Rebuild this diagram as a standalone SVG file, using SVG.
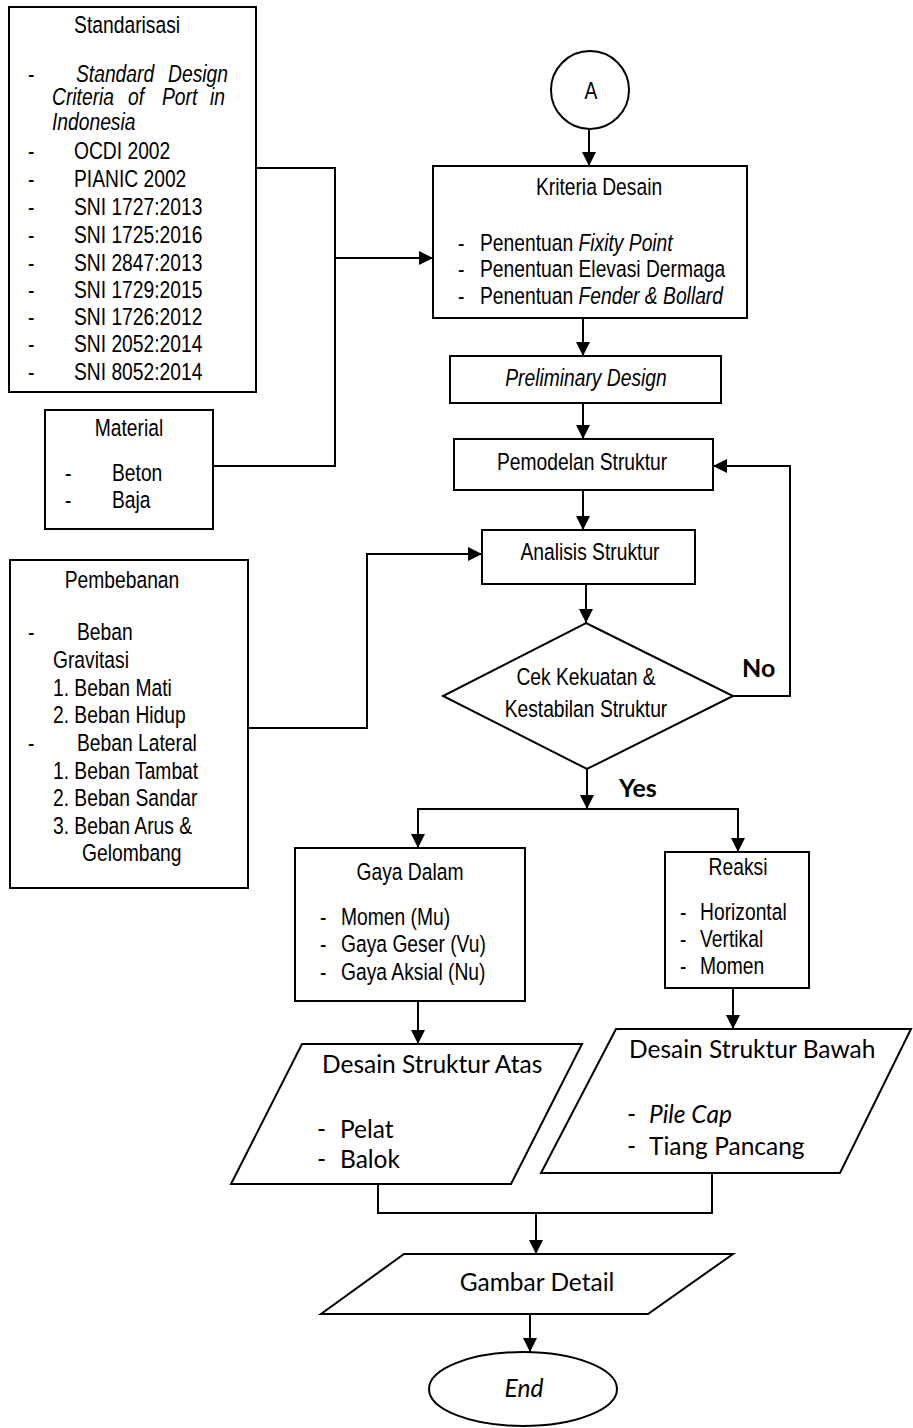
<svg xmlns="http://www.w3.org/2000/svg" width="913" height="1428" viewBox="0 0 913 1428">
<style>
.n{font-family:'Liberation Sans',Arial,sans-serif;font-size:23.5px;fill:#000}
.i{font-style:italic}
.m{text-anchor:middle}
.e{text-anchor:end}
.c{font-family:Lato,'Open Sans',sans-serif;font-size:24.5px;fill:#000}
.b{font-weight:bold}
.box{fill:#fff;stroke:#000;stroke-width:2}
.ln{fill:none;stroke:#000;stroke-width:2}
</style>
<defs>
<marker id="ah" viewBox="0 0 14 14" refX="14" refY="7" markerWidth="14" markerHeight="14" markerUnits="userSpaceOnUse" orient="auto">
<path d="M0,0 L14,7 L0,14 z" fill="#000"/>
</marker>
</defs>
<g id="connectors">
<line class="ln" x1="589" y1="129" x2="589" y2="166" marker-end="url(#ah)"/>
<polyline class="ln" points="256,168 335,168 335,466 213,466"/>
<line class="ln" x1="335" y1="258" x2="433" y2="258" marker-end="url(#ah)"/>
<line class="ln" x1="583" y1="318" x2="583" y2="356" marker-end="url(#ah)"/>
<line class="ln" x1="583" y1="403" x2="583" y2="439" marker-end="url(#ah)"/>
<line class="ln" x1="583" y1="490" x2="583" y2="530" marker-end="url(#ah)"/>
<polyline class="ln" points="248,728 367,728 367,554 482,554" marker-end="url(#ah)"/>
<line class="ln" x1="586" y1="584" x2="586" y2="623" marker-end="url(#ah)"/>
<polyline class="ln" points="733,696 790,696 790,466 713,466" marker-end="url(#ah)"/>
<line class="ln" x1="587" y1="769" x2="587" y2="809" marker-end="url(#ah)"/>
<line class="ln" x1="417" y1="809" x2="739" y2="809"/>
<line class="ln" x1="418" y1="809" x2="418" y2="848" marker-end="url(#ah)"/>
<line class="ln" x1="738" y1="809" x2="738" y2="852" marker-end="url(#ah)"/>
<line class="ln" x1="418" y1="1001" x2="418" y2="1044" marker-end="url(#ah)"/>
<line class="ln" x1="733" y1="988" x2="733" y2="1029" marker-end="url(#ah)"/>
<polyline class="ln" points="378,1184 378,1213 712,1213 712,1173"/>
<line class="ln" x1="536" y1="1213" x2="536" y2="1254" marker-end="url(#ah)"/>
<line class="ln" x1="530" y1="1314" x2="530" y2="1352" marker-end="url(#ah)"/>
<text class="c b" x="742" y="677" style="font-size:25px">No</text>
<text class="c b" x="619" y="797" style="font-size:25px">Yes</text>
</g>
<g id="standarisasi">
<rect class="box" x="9" y="7" width="247" height="385"/>
<g transform="scale(0.82,1)">
<text class="n m" x="155" y="33">Standarisasi</text>
<text class="n" x="34.1" y="82">-</text>
<text class="n i" x="92.7" y="82">Standard</text>
<text class="n i e" x="278" y="82">Design</text>
<text class="n i" x="63.4" y="105">Criteria</text>
<text class="n i" x="156.1" y="105">of</text>
<text class="n i" x="197.6" y="105">Port</text>
<text class="n i" x="256.1" y="105">in</text>
<text class="n i" x="63.4" y="130">Indonesia</text>
<text class="n" x="34.1" y="159">-</text><text class="n" x="90.2" y="159">OCDI 2002</text>
<text class="n" x="34.1" y="187">-</text><text class="n" x="90.2" y="187">PIANIC 2002</text>
<text class="n" x="34.1" y="215">-</text><text class="n" x="90.2" y="215">SNI 1727:2013</text>
<text class="n" x="34.1" y="243">-</text><text class="n" x="90.2" y="243">SNI 1725:2016</text>
<text class="n" x="34.1" y="271">-</text><text class="n" x="90.2" y="271">SNI 2847:2013</text>
<text class="n" x="34.1" y="298">-</text><text class="n" x="90.2" y="298">SNI 1729:2015</text>
<text class="n" x="34.1" y="325">-</text><text class="n" x="90.2" y="325">SNI 1726:2012</text>
<text class="n" x="34.1" y="352">-</text><text class="n" x="90.2" y="352">SNI 2052:2014</text>
<text class="n" x="34.1" y="380">-</text><text class="n" x="90.2" y="380">SNI 8052:2014</text>
</g>
</g>
<g id="material">
<rect class="box" x="45" y="410" width="168" height="119"/>
<g transform="scale(0.82,1)">
<text class="n m" x="157.3" y="436">Material</text>
<text class="n" x="79.3" y="481">-</text><text class="n" x="136.6" y="481">Beton</text>
<text class="n" x="79.3" y="508">-</text><text class="n" x="136.6" y="508">Baja</text>
</g>
</g>
<g id="pembebanan">
<rect class="box" x="10" y="560" width="238" height="328"/>
<g transform="scale(0.82,1)">
<text class="n m" x="148.8" y="588">Pembebanan</text>
<text class="n" x="34.1" y="640">-</text><text class="n" x="93.9" y="640">Beban</text>
<text class="n" x="64.6" y="668">Gravitasi</text>
<text class="n" x="64.6" y="696">1. Beban Mati</text>
<text class="n" x="64.6" y="723">2. Beban Hidup</text>
<text class="n" x="34.1" y="751">-</text><text class="n" x="93.9" y="751">Beban Lateral</text>
<text class="n" x="64.6" y="779">1. Beban Tambat</text>
<text class="n" x="64.6" y="806">2. Beban Sandar</text>
<text class="n" x="64.6" y="834">3. Beban Arus &amp;</text>
<text class="n" x="100" y="861">Gelombang</text>
</g>
</g>
<g id="start-a">
<circle class="box" cx="590" cy="90" r="39"/>
<g transform="scale(0.82,1)">
<text class="n m" x="720.7" y="99">A</text>
</g>
</g>
<g id="kriteria">
<rect class="box" x="433" y="166" width="314" height="152"/>
<g transform="scale(0.82,1)">
<text class="n m" x="730.5" y="195">Kriteria Desain</text>
<text class="n" x="558.5" y="251">-</text><text class="n" x="585.4" y="251">Penentuan <tspan class="i">Fixity Point</tspan></text>
<text class="n" x="558.5" y="277">-</text><text class="n" x="585.4" y="277">Penentuan Elevasi Dermaga</text>
<text class="n" x="558.5" y="304">-</text><text class="n" x="585.4" y="304">Penentuan <tspan class="i">Fender &amp; Bollard</tspan></text>
</g>
</g>
<g id="preliminary">
<rect class="box" x="450" y="356" width="271" height="47"/>
<g transform="scale(0.82,1)">
<text class="n i m" x="714.6" y="386">Preliminary Design</text>
</g>
</g>
<g id="pemodelan">
<rect class="box" x="454" y="439" width="259" height="51"/>
<g transform="scale(0.82,1)">
<text class="n m" x="709.8" y="470">Pemodelan Struktur</text>
</g>
</g>
<g id="analisis">
<rect class="box" x="482" y="530" width="213" height="54"/>
<g transform="scale(0.82,1)">
<text class="n m" x="719.5" y="560">Analisis Struktur</text>
</g>
</g>
<g id="cek">
<polygon class="box" points="586,623 733,696 587,769 443,696"/>
<g transform="scale(0.82,1)">
<text class="n m" x="714.6" y="685">Cek Kekuatan &amp;</text>
<text class="n m" x="714.6" y="717">Kestabilan Struktur</text>
</g>
</g>
<g id="gaya-dalam">
<rect class="box" x="295" y="848" width="230" height="153"/>
<g transform="scale(0.82,1)">
<text class="n m" x="500" y="880">Gaya Dalam</text>
<text class="n" x="390.2" y="925">-</text><text class="n" x="415.9" y="925">Momen (Mu)</text>
<text class="n" x="390.2" y="952">-</text><text class="n" x="415.9" y="952">Gaya Geser (Vu)</text>
<text class="n" x="390.2" y="980">-</text><text class="n" x="415.9" y="980">Gaya Aksial (Nu)</text>
</g>
</g>
<g id="reaksi">
<rect class="box" x="665" y="852" width="144" height="136"/>
<g transform="scale(0.82,1)">
<text class="n m" x="900" y="875">Reaksi</text>
<text class="n" x="829.3" y="920">-</text><text class="n" x="853.7" y="920">Horizontal</text>
<text class="n" x="829.3" y="947">-</text><text class="n" x="853.7" y="947">Vertikal</text>
<text class="n" x="829.3" y="974">-</text><text class="n" x="853.7" y="974">Momen</text>
</g>
</g>
<g id="desain-atas">
<polygon class="box" points="302,1044 582,1044 511,1184 231,1184"/>
<text class="c" x="322" y="1073">Desain Struktur Atas</text>
<text class="c" x="317" y="1138">-</text><text class="c" x="340" y="1138">Pelat</text>
<text class="c" x="317" y="1168">-</text><text class="c" x="340" y="1168">Balok</text>
</g>
<g id="desain-bawah">
<polygon class="box" points="616,1029 911,1029 840,1173 541,1173"/>
<text class="c" x="629" y="1058">Desain Struktur Bawah</text>
<text class="c" x="627" y="1123">-</text><text class="c i" x="649" y="1123">Pile Cap</text>
<text class="c" x="627" y="1155">-</text><text class="c" x="649" y="1155">Tiang Pancang</text>
</g>
<g id="gambar-detail">
<polygon class="box" points="404,1254 733,1254 648,1314 321,1314"/>
<text class="c m" x="537" y="1291">Gambar Detail</text>
</g>
<g id="end">
<ellipse class="box" cx="523" cy="1389" rx="94" ry="37"/>
<text class="c i m" x="524" y="1397">End</text>
</g>
</svg>
